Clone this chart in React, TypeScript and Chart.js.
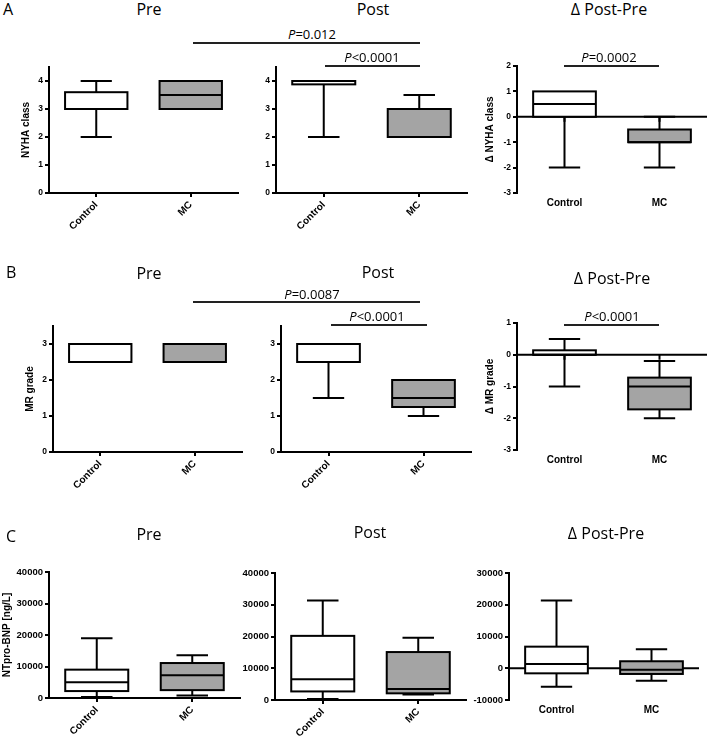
import React, { useEffect, useRef } from "react";
import { Chart, registerables } from "chart.js";

Chart.register(...registerables);

const categories = ["Control", "MC"];
const boxColors = ["#ffffff", "#a4a4a4"];

// each array: [min, q1, median, q3, max]
const nyhaPreControl = [2, 3, 3, 3.6, 4];
const nyhaPreMC = [3, 3, 3.5, 4, 4];
const nyhaPostControl = [2, 3.88, 4, 4, 4];
const nyhaPostMC = [2, 2, 2, 3, 3.5];
const nyhaDeltaControl = [-2, 0, 0.5, 1, 1];
const nyhaDeltaMC = [-2, -1, -1, -0.5, 0];

const mrPreControl = [2.5, 2.5, 2.5, 3, 3];
const mrPreMC = [2.5, 2.5, 2.5, 3, 3];
const mrPostControl = [1.5, 2.5, 2.5, 3, 3];
const mrPostMC = [1, 1.25, 1.5, 2, 2];
const mrDeltaControl = [-1, 0, 0, 0.14, 0.5];
const mrDeltaMC = [-2, -1.72, -1, -0.72, -0.2];

const bnpPreControl = [300, 2200, 5000, 9000, 19000];
const bnpPreMC = [800, 2500, 7200, 11100, 13600];
const bnpPostControl = [300, 2700, 6500, 20200, 31300];
const bnpPostMC = [1700, 2100, 3500, 15100, 19600];
const bnpDeltaControl = [-5800, -1600, 1300, 6800, 21300];
const bnpDeltaMC = [-3900, -1800, -500, 2200, 6000];

const nyhaTicks = [0, 1, 2, 3, 4];
const nyhaDeltaTicks = [-3, -2, -1, 0, 1, 2];
const mrTicks = [0, 1, 2, 3];
const mrDeltaTicks = [-3, -2, -1, 0, 1];
const bnpTicks = [0, 10000, 20000, 30000, 40000];
const bnpDeltaTicks = [-10000, 0, 10000, 20000, 30000];

const colTitles = ["Pre", "Post", "Δ Post-Pre"];
const panelLetters = ["A", "B", "C"];
const pTexts = ["=0.012", "<0.0001", "=0.0002", "=0.0087", "<0.0001", "<0.0001"];

type Panel = {
  left: number; top: number; width: number; height: number;
  axisX: number; plotTop: number; plotBottom: number; plotRight: number;
  min: number; max: number; ticks: number[];
  control: number[]; mc: number[];
  yTitle?: string; titleX?: number; delta: boolean; tickSize: number;
};

const panels: Panel[] = [
  { left: 0, top: 55, width: 242, height: 185, axisX: 49, plotTop: 67, plotBottom: 193, plotRight: 238, min: 0, max: 4.5, ticks: nyhaTicks, control: nyhaPreControl, mc: nyhaPreMC, yTitle: "NYHA class", titleX: 26, delta: false, tickSize: 8.5 },
  { left: 244, top: 55, width: 226, height: 185, axisX: 276, plotTop: 67, plotBottom: 193, plotRight: 467, min: 0, max: 4.5, ticks: nyhaTicks, control: nyhaPostControl, mc: nyhaPostMC, delta: false, tickSize: 8.5 },
  { left: 472, top: 55, width: 237, height: 160, axisX: 517, plotTop: 66, plotBottom: 193, plotRight: 707, min: -3, max: 2, ticks: nyhaDeltaTicks, control: nyhaDeltaControl, mc: nyhaDeltaMC, yTitle: "Δ NYHA class", titleX: 490, delta: true, tickSize: 8.5 },
  { left: 0, top: 312, width: 246, height: 188, axisX: 53, plotTop: 326, plotBottom: 452, plotRight: 242, min: 0, max: 3.5, ticks: mrTicks, control: mrPreControl, mc: mrPreMC, yTitle: "MR grade", titleX: 30, delta: false, tickSize: 8.5 },
  { left: 248, top: 312, width: 226, height: 188, axisX: 281, plotTop: 326, plotBottom: 452, plotRight: 471, min: 0, max: 3.5, ticks: mrTicks, control: mrPostControl, mc: mrPostMC, delta: false, tickSize: 8.5 },
  { left: 472, top: 310, width: 237, height: 165, axisX: 517, plotTop: 323, plotBottom: 450, plotRight: 707, min: -3, max: 1, ticks: mrDeltaTicks, control: mrDeltaControl, mc: mrDeltaMC, yTitle: "Δ MR grade", titleX: 490.5, delta: true, tickSize: 8.5 },
  { left: 0, top: 560, width: 242, height: 178, axisX: 49, plotTop: 572, plotBottom: 698, plotRight: 240, min: 0, max: 40000, ticks: bnpTicks, control: bnpPreControl, mc: bnpPreMC, yTitle: "NTpro-BNP [ng/L]", titleX: 7, delta: false, tickSize: 9.5 },
  { left: 236, top: 560, width: 232, height: 178, axisX: 275, plotTop: 573, plotBottom: 700, plotRight: 466, min: 0, max: 40000, ticks: bnpTicks, control: bnpPostControl, mc: bnpPostMC, delta: false, tickSize: 9.5 },
  { left: 462, top: 560, width: 247, height: 165, axisX: 509, plotTop: 573, plotBottom: 700, plotRight: 699, min: -10000, max: 30000, ticks: bnpDeltaTicks, control: bnpDeltaControl, mc: bnpDeltaMC, delta: true, tickSize: 9.5 },
];

const AXIS_FONT = "'Liberation Sans', Arial, sans-serif";
const SANS = "'Open Sans', 'Noto Sans', sans-serif";

const boxPlugin = {
  id: "boxWhisker",
  beforeDatasetsDraw(chart: any, _args: any, opts: any) {
    if (!opts || !opts.zeroLine) return;
    const { ctx, chartArea } = chart;
    const y0 = chart.scales.y.getPixelForValue(0);
    ctx.save();
    ctx.strokeStyle = "#000";
    ctx.lineWidth = 2;
    ctx.beginPath();
    ctx.moveTo(chartArea.left, y0);
    ctx.lineTo(chartArea.right, y0);
    ctx.stroke();
    const xs = chart.scales.x;
    categories.forEach((_c, i) => {
      const x = xs.getPixelForValue(i);
      ctx.beginPath();
      ctx.moveTo(x, y0);
      ctx.lineTo(x, y0 + 5);
      ctx.stroke();
    });
    ctx.restore();
  },
  afterDatasetsDraw(chart: any) {
    const { ctx } = chart;
    const ys = chart.scales.y;
    const meta = chart.getDatasetMeta(0);
    const stats = chart.data.datasets[0].stats;
    meta.data.forEach((el: any, i: number) => {
      const [mn, q1, md, q3, mx] = stats[i];
      const { x, width } = el.getProps(["x", "width"], true);
      const cap = width * 0.5;
      const pMin = ys.getPixelForValue(mn);
      const pQ1 = ys.getPixelForValue(q1);
      const pMed = ys.getPixelForValue(md);
      const pQ3 = ys.getPixelForValue(q3);
      const pMax = ys.getPixelForValue(mx);
      ctx.save();
      ctx.strokeStyle = "#000";
      ctx.lineWidth = 2;
      ctx.lineCap = "butt";
      if (mx > q3) {
        ctx.beginPath();
        ctx.moveTo(x, pQ3);
        ctx.lineTo(x, pMax);
        ctx.moveTo(x - cap / 2, pMax);
        ctx.lineTo(x + cap / 2, pMax);
        ctx.stroke();
      }
      if (mn < q1) {
        ctx.beginPath();
        ctx.moveTo(x, pQ1);
        ctx.lineTo(x, pMin);
        ctx.moveTo(x - cap / 2, pMin);
        ctx.lineTo(x + cap / 2, pMin);
        ctx.stroke();
      }
      // box outline centred on quartile values
      ctx.strokeRect(x - width / 2, pQ3, width, pQ1 - pQ3);
      ctx.beginPath();
      ctx.moveTo(x - width / 2, pMed);
      ctx.lineTo(x + width / 2, pMed);
      ctx.stroke();
      ctx.restore();
    });
  },
};

function makeChart(canvas: HTMLCanvasElement, p: Panel) {
  const yW = p.axisX - p.left;
  const xH = p.top + p.height - p.plotBottom;
  const titlePad = p.titleX !== undefined ? p.titleX - p.left - 6 : 0;
  return new Chart(canvas, {
    type: "bar",
    data: {
      labels: categories,
      datasets: [
        {
          data: [
            [p.control[1], p.control[3]],
            [p.mc[1], p.mc[3]],
          ],
          backgroundColor: boxColors,
          borderWidth: 0,
          barPercentage: 0.66,
          categoryPercentage: 1,
          stats: [p.control, p.mc],
        } as any,
      ],
    },
    options: {
      animation: false,
      responsive: false,
      maintainAspectRatio: false,
      events: [],
      layout: {
        padding: { top: p.plotTop - p.top, right: p.left + p.width - p.plotRight, left: 0, bottom: 0 },
      },
      plugins: {
        legend: { display: false },
        tooltip: { enabled: false },
        title: { display: false },
        boxWhisker: { zeroLine: p.delta },
      } as any,
      scales: {
        x: {
          offset: true,
          afterFit: (s: any) => { s.height = xH; },
          border: { display: !p.delta, color: "#000", width: 2 },
          grid: {
            display: !p.delta,
            drawOnChartArea: false,
            drawTicks: !p.delta,
            tickLength: 4,
            offset: false,
            color: "#000",
            lineWidth: 2,
          },
          ticks: {
            color: "#000",
            autoSkip: false,
            font: { family: AXIS_FONT, size: 10, weight: "bold" },
            maxRotation: p.delta ? 0 : 45,
            minRotation: p.delta ? 0 : 45,
            padding: p.delta ? 4 : 2,
          },
        },
        y: {
          min: p.min,
          max: p.max,
          afterFit: (s: any) => { s.width = yW; },
          afterBuildTicks: (s: any) => { s.ticks = p.ticks.map((v) => ({ value: v })); },
          border: { color: "#000", width: 2 },
          grid: { drawOnChartArea: false, drawTicks: true, tickLength: 4, color: "#000", lineWidth: 2 },
          ticks: {
            color: "#000",
            padding: 2,
            font: { family: AXIS_FONT, size: p.tickSize, weight: "bold" },
            callback: (v: any) => String(v),
          },
          title: p.yTitle
            ? {
                display: true,
                text: p.yTitle,
                color: "#000",
                font: { family: AXIS_FONT, size: 10, weight: "bold", lineHeight: 1.2 },
                padding: { top: titlePad, bottom: 0 },
              }
            : { display: false },
        },
      },
    } as any,
    plugins: [boxPlugin as any],
  });
}

function BoxPanel({ p }: { p: Panel }) {
  const ref = useRef<HTMLCanvasElement | null>(null);
  useEffect(() => {
    const chart = makeChart(ref.current as HTMLCanvasElement, p);
    return () => chart.destroy();
  }, []);
  return (
    <canvas
      ref={ref}
      width={p.width}
      height={p.height}
      style={{ position: "absolute", left: p.left, top: p.top, width: p.width, height: p.height }}
    />
  );
}

function Txt({ cx, left, baseline, size, children }: any) {
  const style: any = {
    position: "absolute",
    top: baseline - 0.888 * size,
    fontFamily: SANS,
    fontSize: size,
    lineHeight: `${size}px`,
    color: "#000",
    whiteSpace: "nowrap",
  };
  if (cx !== undefined) {
    style.left = cx - 150;
    style.width = 300;
    style.textAlign = "center";
  } else {
    style.left = left;
  }
  return <div style={style}>{children}</div>;
}

function HLine({ x1, x2, y }: any) {
  return (
    <div style={{ position: "absolute", left: x1, top: y - 0.75, width: x2 - x1, height: 1.5, background: "#222" }} />
  );
}

const titleCenters = [149, 373, 609, 149, 378, 612, 149, 370, 606];
const titleBaselines = [15, 15, 15, 279, 278, 284, 540, 538, 539];
const letterPos = [[3, 15], [6, 278], [6, 542]];
const pPos = [
  [312, 40], [372, 63], [609, 63],
  [312, 300], [377, 322], [612, 322],
];
const pLines = [
  [193, 420, 43], [325, 420, 66], [564, 659, 66],
  [193, 420, 302], [331, 427, 325], [564, 659, 325],
];

export default function App() {
  return (
    <div style={{ position: "absolute", left: 0, top: 0, width: 709, height: 738, background: "#fff", overflow: "hidden" }}>
      {panels.map((p, i) => (
        <BoxPanel key={i} p={p} />
      ))}
      {panelLetters.map((l, i) => (
        <Txt key={"l" + i} left={letterPos[i][0]} baseline={letterPos[i][1]} size={16}>{l}</Txt>
      ))}
      {titleCenters.map((cx, i) => (
        <Txt key={"t" + i} cx={cx} baseline={titleBaselines[i]} size={16}>{colTitles[i % 3]}</Txt>
      ))}
      {pLines.map((l, i) => (
        <HLine key={"h" + i} x1={l[0]} x2={l[1]} y={l[2]} />
      ))}
      {pTexts.map((t, i) => (
        <Txt key={"p" + i} cx={pPos[i][0]} baseline={pPos[i][1]} size={13}>
          <span style={{ fontStyle: "italic" }}>P</span>{t}
        </Txt>
      ))}
    </div>
  );
}
